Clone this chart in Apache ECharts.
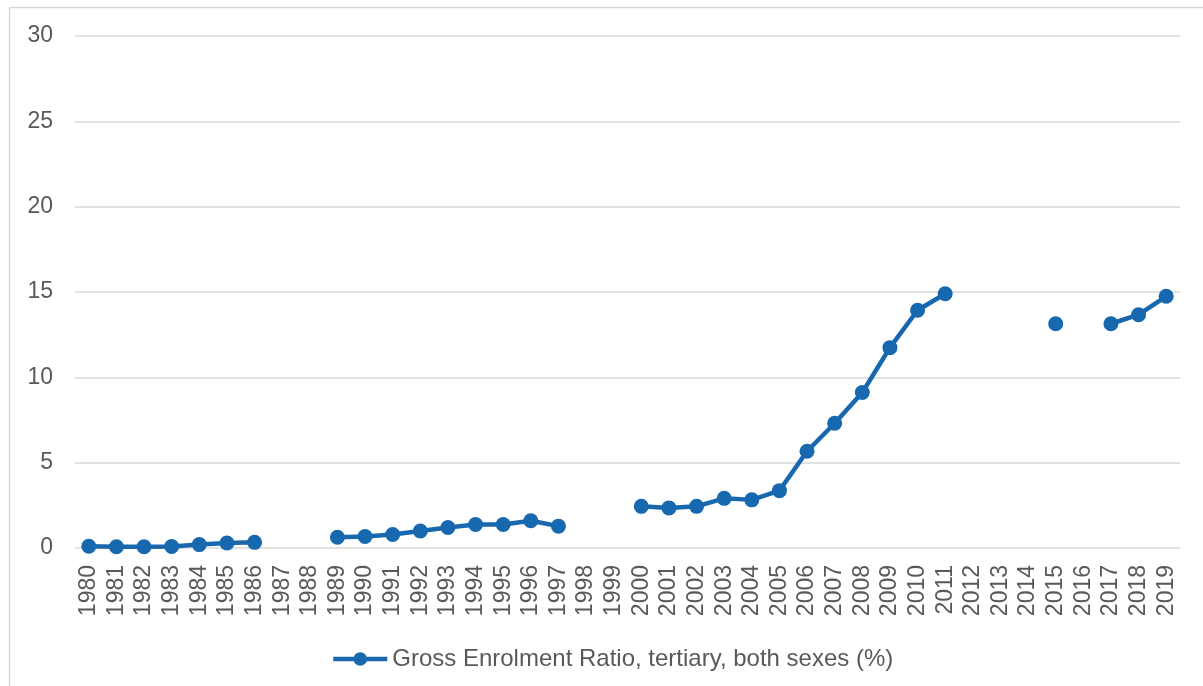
<!DOCTYPE html>
<html>
<head>
<meta charset="utf-8">
<script src="https://cdn.jsdelivr.net/npm/echarts@6/dist/echarts.min.js"></script>
<style>
  html, body { margin: 0; padding: 0; background: #ffffff; }
  #chart { width: 1203px; height: 686px; }
</style>
</head>
<body>
<div id="chart"></div>
<script>
// Years on the category axis
const years = [];
for (let y = 1980; y <= 2019; y++) years.push(String(y));

// Gross enrolment ratio, tertiary, both sexes (%); null = no data for that year
const ratio = [
  0.10, 0.07, 0.07, 0.09, 0.20, 0.29, 0.33, null, null, 0.63,
  0.67, 0.79, 1.00, 1.20, 1.38, 1.38, 1.60, 1.28, null, null,
  2.44, 2.35, 2.44, 2.91, 2.82, 3.36, 5.67, 7.31, 9.11, 11.74,
  13.93, 14.90, null, null, null, 13.14, null, 13.14, 13.67, 14.75
];

const seriesName = 'Gross Enrolment Ratio, tertiary, both sexes (%)';

const textColor = '#595959';
const lineColor = '#1868B0';
const fontFamily = '"Liberation Sans", Arial, sans-serif';

const chart = echarts.init(document.getElementById('chart'), null, { renderer: 'canvas' });

chart.setOption({
  animation: false,
  backgroundColor: '#ffffff',
  textStyle: { fontFamily: fontFamily },
  graphic: [{
    type: 'rect',
    shape: { x: 9.5, y: 7.5, width: 1200, height: 690 },
    style: { fill: 'none', stroke: '#d9d9d9', lineWidth: 1.5 },
    silent: true
  }],
  grid: { left: 75, right: 23, top: 36, bottom: 138, containLabel: false },
  legend: {
    data: [seriesName],
    left: 326,
    top: 642,
    itemWidth: 54,
    itemHeight: 17,
    itemGap: 4,
    lineStyle: { width: 4.5 },
    textStyle: { color: textColor, fontSize: 24, fontFamily: fontFamily }
  },
  xAxis: {
    type: 'category',
    data: years,
    boundaryGap: true,
    axisLine: { show: false },
    axisTick: { show: false },
    axisLabel: {
      interval: 0,
      rotate: 90,
      margin: 17,
      color: textColor,
      fontSize: 23,
      fontFamily: fontFamily
    },
    splitLine: { show: false }
  },
  yAxis: {
    type: 'value',
    min: 0,
    max: 30,
    interval: 5,
    axisLine: { show: false },
    axisTick: { show: false },
    axisLabel: {
      margin: 22,
      color: textColor,
      fontSize: 23,
      fontFamily: fontFamily
    },
    splitLine: { lineStyle: { color: '#d9d9d9', width: 1.5 } }
  },
  series: [{
    name: seriesName,
    type: 'line',
    data: ratio,
    connectNulls: false,
    showSymbol: true,
    showAllSymbol: true,
    symbol: 'circle',
    symbolSize: 15,
    itemStyle: { color: lineColor },
    lineStyle: { color: lineColor, width: 4.5 }
  }]
});
</script>
</body>
</html>
